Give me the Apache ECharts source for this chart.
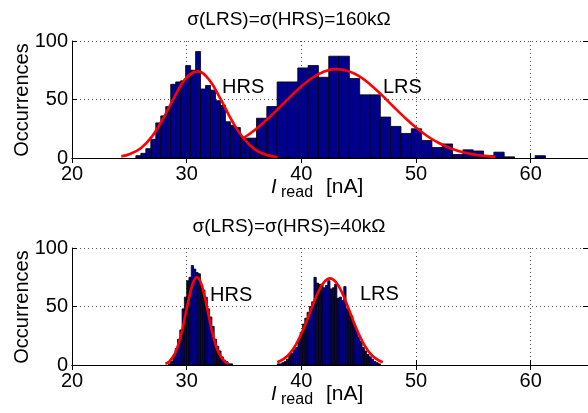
<!DOCTYPE html>
<html>
<head>
<meta charset="utf-8">
<script src="https://cdn.jsdelivr.net/npm/echarts@6/dist/echarts.min.js"></script>
<style>
html, body { margin: 0; padding: 0; background: #fff; }
#chart { width: 588px; height: 413px; }
</style>
</head>
<body>
<div id="chart"></div>
<script>
// --- data ---
var titles = ['σ(LRS)=σ(HRS)=160kΩ', 'σ(LRS)=σ(HRS)=40kΩ'];
var xTicks = [20, 30, 40, 50, 60];
var yTicks = [0, 50, 100];

// top panel (160kΩ): histogram bins
var hrsTopStart = 25.57, hrsTopWidth = 0.434;
var hrsTopCounts = [2, 4, 8, 16, 30, 36, 44, 63, 65, 66, 79, 75, 91, 59, 62, 58, 49, 45, 31, 28, 26, 18, 15, 11, 10, 5, 3, 2, 1, 0, 1];
var lrsTopStart = 33.39, lrsTopWidth = 0.9;
var lrsTopCounts = [4, 10, 17, 34, 44, 65, 65, 77, 79, 69, 87, 87, 68, 54, 54, 35, 27, 21, 25, 15, 9, 12, 3, 7, 6, 2, 5, 1, 0, 0, 2];

// top panel fitted curves (x, count)
var hrsTopFitX = [24.3, 25, 26, 27, 28, 29, 30, 31, 32, 33, 34, 35, 36, 37, 37.9];
var hrsTopFitY = [1.4, 3.2, 8.4, 18.7, 34.6, 53.4, 68.8, 74, 66.3, 49.6, 31.0, 16.2, 7.0, 2.5, 0.9];
var lrsTopFitX = [34.9, 36, 37, 38, 39, 40, 41, 42, 43, 44, 45, 46, 47, 48, 49, 50, 51, 52, 53, 54, 55, 56, 56.9];
var lrsTopFitY = [16.7, 24.4, 32.9, 42.3, 52.0, 61.2, 68.8, 74.0, 76, 74.6, 70.1, 62.9, 54.0, 44.2, 34.7, 26.0, 18.6, 12.8, 8.4, 5.2, 3.1, 1.8, 1.0];

// bottom panel (40kΩ): histogram bins
var hrsBotStart = 28.4, hrsBotWidth = 0.2;
var hrsBotCounts = [1, 3, 8, 14, 22, 30, 48, 58, 72, 75, 85, 82, 79, 78, 68, 64, 58, 48, 41, 33, 22, 16, 12, 7, 4, 3, 1, 1];
var lrsBotStart = 37.9, lrsBotWidth = 0.2;
var lrsBotCounts = [1, 1, 2, 3, 5, 9, 10, 13, 15, 22, 28, 35, 40, 45, 50, 54, 75, 70, 69, 69, 66, 68, 72, 65, 66, 69, 57, 58, 55, 67, 48, 46, 42, 35, 30, 24, 20, 15, 12, 9, 7, 5, 3, 2, 1];

// bottom panel fitted curves
var hrsBotFitX = [28.15, 28.5, 29, 29.5, 30, 30.5, 30.9, 31.3, 31.8, 32.3, 32.8, 33.3, 33.65];
var hrsBotFitY = [1.1, 3.1, 10.2, 25.3, 47.9, 68.6, 75, 68.6, 47.9, 25.3, 10.2, 3.1, 1.1];
var lrsBotFitX = [37.9, 38.5, 39, 39.5, 40, 40.5, 41, 41.5, 42, 42.5, 43, 43.5, 44, 44.5, 45, 45.5, 46, 46.5, 47.1];
var lrsBotFitY = [2.3, 5.4, 10.0, 17.0, 26.7, 38.5, 51.3, 62.9, 71.0, 74, 71.0, 62.9, 51.3, 38.5, 26.7, 17.0, 10.0, 5.4, 2.3];

// --- helpers ---
function bins(start, width, counts) {
  var out = [];
  for (var i = 0; i < counts.length; i++) {
    out.push([start + i * width, start + (i + 1) * width, counts[i]]);
  }
  return out;
}
function pairs(xs, ys) {
  var out = [];
  for (var i = 0; i < xs.length; i++) out.push([xs[i], ys[i]]);
  return out;
}
function renderBar(params, api) {
  var h = api.value(2);
  if (!h) return;
  var a = api.coord([api.value(0), h]);
  var b = api.coord([api.value(1), 0]);
  return {
    type: 'rect',
    shape: { x: a[0], y: a[1], width: b[0] - a[0], height: b[1] - a[1] },
    style: { fill: '#00008a', stroke: '#000', lineWidth: 0.8 }
  };
}

var FONT = 'Liberation Sans, Arial, sans-serif';
var grids = [
  { left: 72, top: 41, width: 519, height: 117 },
  { left: 72, top: 248, width: 519, height: 117 }
];

var xAxes = [], yAxes = [];
for (var g = 0; g < 2; g++) {
  xAxes.push({
    gridIndex: g, type: 'value', min: 20, max: 65, interval: 10, position: 'bottom',
    axisLine: { lineStyle: { color: '#000', width: 1 } },
    axisTick: { inside: true, length: 5, lineStyle: { color: '#000' } },
    axisLabel: { color: '#000', fontSize: 20, fontFamily: FONT, margin: 6, showMaxLabel: false,
      formatter: function (v) { return xTicks.indexOf(v) >= 0 ? String(v) : ''; } },
    splitLine: { show: true, lineStyle: { color: '#555', type: [1, 3], width: 1 } }
  });
  xAxes.push({
    gridIndex: g, type: 'value', min: 20, max: 65, interval: 10, position: 'top',
    axisLine: { lineStyle: { color: '#000', width: 1 } },
    axisTick: { inside: true, length: 5, lineStyle: { color: '#000' } },
    axisLabel: { show: false }, splitLine: { show: false }
  });
  yAxes.push({
    gridIndex: g, type: 'value', min: 0, max: 100, interval: 50, position: 'left',
    axisLine: { show: true, lineStyle: { color: '#000', width: 1 } },
    axisTick: { show: true, inside: true, length: 5, lineStyle: { color: '#000' } },
    axisLabel: { color: '#000', fontSize: 20, fontFamily: FONT, margin: 4,
      formatter: function (v) { return yTicks.indexOf(v) >= 0 ? String(v) : ''; } },
    splitLine: { show: true, lineStyle: { color: '#555', type: [1, 3], width: 1 } }
  });
  yAxes.push({
    gridIndex: g, type: 'value', min: 0, max: 100, interval: 50, position: 'right',
    axisLine: { show: true, lineStyle: { color: '#000', width: 1 } },
    axisTick: { show: true, inside: true, length: 5, lineStyle: { color: '#000' } },
    axisLabel: { show: false }, splitLine: { show: false }
  });
}

function histSeries(g, data) {
  return { type: 'custom', xAxisIndex: g * 2, yAxisIndex: g * 2, renderItem: renderBar,
    encode: { x: [0, 1], y: 2 }, data: data, silent: true, z: 2 };
}
function fitSeries(g, data) {
  return { type: 'line', xAxisIndex: g * 2, yAxisIndex: g * 2, data: data, smooth: 0.4,
    showSymbol: false, symbol: 'none', lineStyle: { color: '#ff0000', width: 2.6 }, z: 5, silent: true };
}

var series = [
  histSeries(0, bins(lrsTopStart, lrsTopWidth, lrsTopCounts)),
  histSeries(0, bins(hrsTopStart, hrsTopWidth, hrsTopCounts)),
  fitSeries(0, pairs(hrsTopFitX, hrsTopFitY)),
  fitSeries(0, pairs(lrsTopFitX, lrsTopFitY)),
  histSeries(1, bins(lrsBotStart, lrsBotWidth, lrsBotCounts)),
  histSeries(1, bins(hrsBotStart, hrsBotWidth, hrsBotCounts)),
  fitSeries(1, pairs(hrsBotFitX, hrsBotFitY)),
  fitSeries(1, pairs(lrsBotFitX, lrsBotFitY))
];

function txt(x, y, s, size, extra) {
  var st = { text: s, fontSize: size, fontFamily: FONT, fill: '#000', textAlign: 'left', textVerticalAlign: 'middle' };
  for (var k in extra || {}) st[k] = extra[k];
  return { type: 'text', x: x, y: y, style: st, z: 10 };
}

var graphics = [];
var offs = [0, 207];
for (var p = 0; p < 2; p++) {
  var dy = offs[p];
  graphics.push(txt(289, 20 + dy, titles[p], 19, { textAlign: 'center' }));
  var occ = txt(22, 100 + dy, 'Occurrences', 20, { textAlign: 'center' });
  occ.rotation = Math.PI / 2;
  graphics.push(occ);
  graphics.push(txt(271, 187 + dy, 'I', 20, { fontStyle: 'italic' }));
  graphics.push(txt(281, 193 + dy, 'read', 16));
  graphics.push(txt(326, 187 + dy, '[nA]', 21));
}
graphics.push(txt(222, 87, 'HRS', 20));
graphics.push(txt(383, 87, 'LRS', 20));
graphics.push(txt(210, 295, 'HRS', 20));
graphics.push(txt(360, 294, 'LRS', 20));

var chart = echarts.init(document.getElementById('chart'), null, { renderer: 'canvas' });
chart.setOption({
  animation: false,
  backgroundColor: '#fff',
  grid: grids,
  xAxis: xAxes,
  yAxis: yAxes,
  series: series,
  graphic: graphics
});
</script>
</body>
</html>
